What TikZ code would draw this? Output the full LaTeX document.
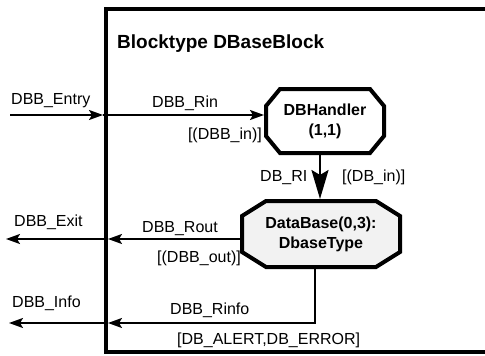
\documentclass[tikz,border=0pt]{standalone}
\usepackage{fontspec}
\setmainfont{Liberation Sans}
\usetikzlibrary{arrows.meta,backgrounds}
% Achteck um einen Knoten: #1 Knoten, #2 Abschrägung x, #3 Abschrägung y
\newcommand{\octpath}[3]{([xshift=#2]#1.north west) -- ([xshift=-#2]#1.north east)
  -- ([yshift=-#3]#1.north east) -- ([yshift=#3]#1.south east)
  -- ([xshift=-#2]#1.south east) -- ([xshift=#2]#1.south west)
  -- ([yshift=#3]#1.south west) -- ([yshift=-#3]#1.north west) -- cycle}
\begin{document}
\begin{tikzpicture}[x=1pt,y=-1pt,
    lbl/.style={font=\fontsize{16}{18}\selectfont, inner sep=0pt},
    octa/.style={rectangle, align=center, inner sep=0pt, outer sep=0pt,
      font=\bfseries\fontsize{16}{20}\selectfont},
    octline/.style={line width=4pt, line join=miter},
    flow/.style={line width=2pt, -{Stealth[length=14pt,width=10pt,inset=3pt]}},
    bigflow/.style={line width=2.5pt, -{Stealth[length=29pt,width=17pt,inset=5pt]}}]
    \useasboundingbox (0,0) rectangle (485,356);
    % Rahmen des Blocks (rechts offen)
    \draw[line width=4.5pt, line join=miter] (485,9) -- (106,9) -- (106,352) -- (485,352);
    \node[anchor=base west, font=\bfseries\fontsize{19}{22}\selectfont, inner sep=0pt] (title) at (117,48) {Blocktype DBaseBlock};

    % Prozesse
    \node[octa, minimum width=118pt, minimum height=64pt] (handler) at (325,121) {DBHandler\\(1,1)};
    \node[octa, minimum width=158pt, minimum height=66pt] (dbase) at (321,234) {DataBase(0,3):\\DbaseType};
    \begin{scope}[on background layer]
      \draw[octline, fill=white] \octpath{handler}{14pt}{17pt};
      \draw[octline, fill=black!5] \octpath{dbase}{24pt}{15pt};
    \end{scope}

    % Anschlusspunkte
    \coordinate (entry) at (10,115);
    \coordinate (pin) at (103,115);
    \coordinate (exit) at (6,239);
    \coordinate (pout) at (108,239);
    \coordinate (info) at (9,323);
    \coordinate (pinfo) at (108,323);

    % Kanäle
    \draw[flow] (entry) -- (pin);
    \draw[flow, shorten >=2pt] (pin) -- (handler.west |- pin);
    \draw[bigflow, shorten <=2pt, shorten >=2pt] (handler.south -| 320,0) -- (dbase.north -| 320,0);
    \draw[flow, shorten <=2pt] (dbase.west |- pout) -- (pout);
    \draw[flow] (pout) -- (exit);
    \draw[flow, shorten <=2pt] ([xshift=-6pt]dbase.south) |- (pinfo);
    \draw[flow] (pinfo) -- (info);

    % Beschriftungen
    \node[lbl, anchor=base west] (lentry) at (11,104) {DBB\_Entry};
    \node[lbl, anchor=base west] (lrin) at (152,107) {DBB\_Rin};
    \node[lbl, anchor=base east] (lrinsig) at (262,139) {[(DBB\_in)]};
    \node[lbl, anchor=base west] (lri) at (260,181) {DB\_RI};
    \node[lbl, anchor=base west] (lrisig) at (342,181) {[(DB\_in)]};
    \node[lbl, anchor=base west] (lexit) at (14,226) {DBB\_Exit};
    \node[lbl, anchor=base west] (lrout) at (142,232) {DBB\_Rout};
    \node[lbl, anchor=base east] (lroutsig) at (241,262) {[(DBB\_out)]};
    \node[lbl, anchor=base west] (linfo) at (12,307) {DBB\_Info};
    \node[lbl, anchor=base west] (lrinfo) at (170,314) {DBB\_Rinfo};
    \node[lbl, anchor=base west] (lrinfosig) at (177,344) {[DB\_ALERT,DB\_ERROR]};
\end{tikzpicture}
\end{document}
